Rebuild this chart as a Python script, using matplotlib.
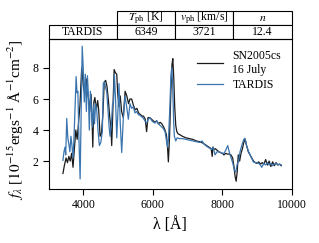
import matplotlib
matplotlib.use("Agg")
import matplotlib.pyplot as plt
from matplotlib.table import Table

plt.rcParams['font.family'] = ['Liberation Serif', 'DejaVu Serif']
plt.rcParams['mathtext.fontset'] = 'stix'

# Observed spectrum (SN2005cs, 16 July)
wl_obs = [3410, 3450, 3500, 3540, 3580, 3620, 3660, 3700, 3740, 3780, 3820, 3860, 3900, 3950,
          4000, 4040, 4080, 4110, 4150, 4180, 4220, 4250, 4270, 4300, 4330, 4370, 4410, 4440,
          4480, 4520, 4560, 4600, 4640, 4680, 4720, 4760, 4790, 4815, 4850, 4885, 4920, 4960,
          4990, 5025, 5060, 5100, 5150, 5200, 5250, 5300, 5340, 5390, 5440, 5490, 5540, 5590,
          5640, 5690, 5730, 5780, 5820, 5860, 5910, 5960, 6010, 6060, 6110, 6160, 6210, 6260,
          6310, 6350, 6390, 6420, 6447, 6480, 6520, 6550, 6575, 6600, 6630, 6660, 6690, 6730,
          6780, 6850, 6950, 7050, 7150, 7250, 7350, 7450, 7550, 7620, 7680, 7710, 7730, 7760,
          7800, 7850, 7900, 7950, 8000, 8050, 8100, 8150, 8200, 8250, 8300, 8340, 8370, 8400,
          8430, 8460, 8500, 8540, 8580, 8620, 8660, 8700, 8750, 8800, 8850, 8900, 8950, 9000,
          9050, 9100, 9150, 9200, 9250, 9300, 9350, 9400, 9450, 9500, 9550, 9600, 9650, 9700]
flux_obs = [1.2, 1.7, 2.2, 1.9, 2.3, 2.0, 2.5, 1.6, 2.8, 4.0, 3.4, 4.5, 5.6, 8.0,
            6.8, 6.3, 7.3, 6.5, 6.0, 5.2, 6.3, 4.6, 2.9, 5.8, 6.1, 5.3, 5.9, 5.3,
            3.6, 3.8, 5.0, 7.1, 7.2, 6.8, 5.9, 4.8, 4.2, 3.0, 5.5, 7.9, 7.7, 7.6,
            6.3, 5.5, 6.2, 5.2, 4.8, 6.5, 6.2, 5.7, 6.0, 6.0, 5.6, 5.3, 5.4, 5.1,
            5.0, 4.9, 4.9, 4.7, 3.9, 4.8, 4.8, 4.7, 4.6, 4.5, 4.6, 4.4, 4.5, 4.4,
            4.2, 4.0, 3.7, 3.0, 1.95, 3.5, 6.5, 8.2, 8.6, 7.5, 5.5, 4.3, 3.9, 3.75,
            3.7, 3.6, 3.5, 3.45, 3.4, 3.3, 3.25, 3.15, 3.0, 2.9, 2.8, 2.3, 2.9, 2.75,
            2.8, 2.7, 2.6, 2.55, 2.5, 2.4, 2.5, 2.45, 2.45, 2.4, 2.2, 1.6, 1.0, 0.7,
            1.3, 2.4, 2.0, 2.5, 2.8, 3.2, 3.4, 3.0, 2.6, 2.4, 2.2, 2.0, 1.9, 1.85,
            1.95, 1.8, 1.9, 1.8, 2.1, 1.75, 2.0, 1.65, 1.95, 1.7, 1.9, 1.75, 1.8, 1.7]

# TARDIS model spectrum
wl_mod = [3410, 3440, 3470, 3490, 3520, 3550, 3580, 3610, 3640, 3670, 3700, 3730, 3760, 3790,
          3815, 3840, 3870, 3905, 3935, 3965, 3995, 4025, 4055, 4085, 4115, 4140, 4170, 4200,
          4230, 4260, 4290, 4320, 4350, 4383, 4420, 4460, 4500, 4545, 4573, 4610, 4640, 4671,
          4710, 4740, 4766, 4800, 4840, 4865, 4892, 4925, 4960, 4990, 5025, 5060, 5103, 5150,
          5198, 5246, 5294, 5342, 5390, 5438, 5486, 5530, 5580, 5630, 5680, 5726, 5770, 5823,
          5870, 5920, 5970, 6020, 6063, 6110, 6160, 6210, 6256, 6300, 6351, 6380, 6420, 6450,
          6490, 6520, 6543, 6570, 6600, 6620, 6660, 6700, 6760, 6850, 6950, 7050, 7150, 7250,
          7350, 7420, 7470, 7552, 7620, 7695, 7740, 7791, 7850, 7900, 7950, 8000, 8050, 8100,
          8157, 8200, 8253, 8300, 8350, 8390, 8430, 8470, 8512, 8560, 8620, 8655, 8700, 8760,
          8820, 8895, 8950, 9000, 9050, 9100, 9136, 9200, 9250, 9300, 9350, 9400, 9450, 9500,
          9550, 9600, 9650, 9700]
flux_mod = [2.05, 2.6, 2.9, 2.4, 4.75, 3.5, 3.1, 2.6, 3.6, 3.0, 2.2, 3.6, 5.5, 7.45,
            6.4, 6.5, 3.5, 0.85, 5.0, 9.4, 8.0, 5.8, 7.6, 5.2, 7.5, 6.4, 4.0, 6.5,
            5.4, 4.2, 5.6, 4.4, 5.7, 5.3, 4.0, 3.0, 3.2, 3.9, 7.0, 7.1, 6.7, 6.5,
            5.2, 4.2, 3.6, 4.2, 5.7, 5.7, 7.6, 6.0, 3.5, 5.0, 7.0, 4.5, 2.55, 4.8,
            6.2, 5.5, 4.7, 5.7, 5.4, 5.5, 5.1, 5.2, 5.0, 4.95, 4.85, 4.76, 4.6, 4.45,
            4.7, 4.8, 4.6, 4.5, 4.45, 4.6, 4.4, 4.3, 4.2, 4.1, 3.9, 3.5, 2.9, 3.4,
            5.5, 7.5, 8.0, 7.0, 4.5, 3.6, 3.3, 3.5, 3.45, 3.45, 3.4, 3.35, 3.3, 3.25,
            3.2, 3.3, 3.1, 2.95, 2.85, 2.75, 2.9, 2.4, 2.6, 2.6, 2.55, 2.5, 2.5, 2.7,
            3.0, 2.6, 2.2, 1.9, 1.4, 1.3, 1.8, 2.0, 2.6, 3.0, 3.4, 3.47, 3.0, 2.6,
            2.3, 1.95, 1.9, 1.9, 1.85, 1.75, 1.6, 1.85, 1.75, 1.9, 1.75, 1.85, 1.7, 1.8,
            1.85, 1.75, 1.8, 1.75]

table_cols = [r'$T_\mathrm{ph}$ [K]', r'$v_\mathrm{ph}$ [km/s]', r'$n$']
table_rows = ['TARDIS']
table_vals = [['6349', '3721', '12.4']]

x_ticks = [4000, 6000, 8000, 10000]
y_ticks = [2, 4, 6, 8]

FS = 8.5
fig = plt.figure(figsize=(3.19, 2.43), dpi=100)
ax = fig.add_axes([0.1527, 0.2222, 0.7617, 0.6161])

ax.plot(wl_obs, flux_obs, color='#1a1a1a', lw=0.9, label='SN2005cs\n16 July')
ax.plot(wl_mod, flux_mod, color='#3b75af', lw=0.9, label='TARDIS')

ax.set_xlim(3000, 10000)
ax.set_ylim(0.2, 9.85)
ax.set_xticks(x_ticks)
ax.set_yticks(y_ticks)
ax.tick_params(labelsize=FS, length=4.5, width=0.8, pad=3)
ax.set_xlabel('λ [Å]', fontsize=11.5, labelpad=4)
ax.set_ylabel(r'$f_\lambda$ [$10^{-15}$ergs$^{-1}$ Å$^{-1}$cm$^{-2}$]', fontsize=11)
ax.yaxis.set_label_coords(-0.095, 0.46)

leg = ax.legend(loc='upper right', frameon=False, fontsize=FS, handlelength=2.2,
                borderaxespad=0.5, labelspacing=0.3)

# Table above axes (axes-fraction coordinates); bbox covers the value columns
rl_w, col_w, row_h = 0.28, 0.24, 0.0955
tab = Table(ax, bbox=[rl_w, 1.0, 1.0 - rl_w, 2 * row_h])
for j, lab in enumerate(table_cols):
    tab.add_cell(0, j, width=col_w, height=row_h, text=lab, loc='center')
for i, rlab in enumerate(table_rows):
    tab.add_cell(i + 1, -1, width=rl_w, height=row_h, text=rlab, loc='center')
    for j, v in enumerate(table_vals[i]):
        tab.add_cell(i + 1, j, width=col_w, height=row_h, text=v, loc='center')
tab.auto_set_font_size(False)
tab.set_fontsize(FS)
for cell in tab.get_celld().values():
    cell.set_linewidth(0.8)
ax.add_table(tab)

fig.savefig('out.png', dpi=100)
